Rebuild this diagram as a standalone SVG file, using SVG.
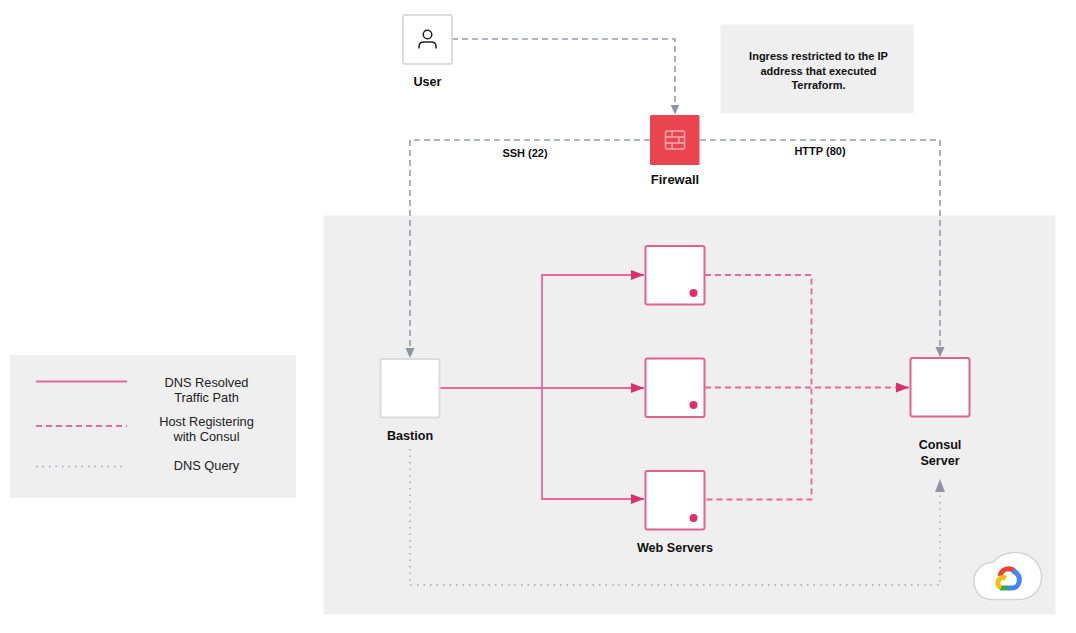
<svg xmlns="http://www.w3.org/2000/svg" width="1076" height="633" viewBox="0 0 1076 633">
<defs>
<marker id="ag" markerUnits="userSpaceOnUse" markerWidth="12" markerHeight="12" refX="10" refY="4.500" orient="auto"><path d="M0 0L10 4.500L0 9Z" fill="#8f93a3"/></marker>
<marker id="agl" markerUnits="userSpaceOnUse" markerWidth="14" markerHeight="12" refX="13" refY="5" orient="auto"><path d="M0 0L13 5L0 10Z" fill="#8f93a3"/></marker>
<marker id="ap" markerUnits="userSpaceOnUse" markerWidth="14" markerHeight="12" refX="13" refY="5" orient="auto"><path d="M0 0L13 5L0 10Z" fill="#dd2f6e"/></marker>
</defs>
<style>
text{font-family:"Liberation Sans",Arial,sans-serif;font-size:12.600px;fill:#111;text-anchor:middle}
.b{font-weight:700}
.s{font-size:11px;font-weight:700}
.l{font-size:12.800px;fill:#222}
.box{fill:#fff;stroke:#dcdcdc;stroke-width:2}
.pk{fill:#fff;stroke:#e5608f;stroke-width:2}
.dot{fill:#dd2f6e}
.panel{fill:#efefef}
.g{fill:none;stroke:#9a9dac;stroke-width:1.600;stroke-dasharray:6 4}
.q{fill:none;stroke:#a5a7b3;stroke-width:1.400;stroke-dasharray:1.500 5}
.ps{fill:none;stroke:#e7689a;stroke-width:1.800}
.pd{fill:none;stroke:#e7689a;stroke-width:1.800;stroke-dasharray:6 4}
</style>
<g id="backgrounds">
<rect class="panel" x="323.500" y="215.500" width="732" height="399"/>
<rect class="panel" x="10" y="355" width="286" height="143"/>
<rect class="panel" x="720.500" y="24.500" width="193" height="88.500"/>
</g>
<g id="connectors">
<path class="g" d="M452 39H675V114.500" marker-end="url(#ag)"/>
<path class="g" d="M650 140H410V358" marker-end="url(#ag)"/>
<path class="g" d="M700 140H940V357" marker-end="url(#ag)"/>
<path class="q" d="M410 449V585H940V479" marker-end="url(#agl)"/>
<path class="ps" d="M440 388H644" marker-end="url(#ap)"/>
<path class="ps" d="M542 388V275H644" marker-end="url(#ap)"/>
<path class="ps" d="M542 388V499H644" marker-end="url(#ap)"/>
<path class="pd" d="M705 275H811.500V499.500H705"/>
<path class="pd" d="M705 387.500H909" marker-end="url(#ap)"/>
</g>
<g id="user">
<rect class="box" x="403" y="15" width="49" height="49" rx="2"/>
<circle cx="427.500" cy="34.500" r="4.300" fill="none" stroke="#222" stroke-width="1.500"/>
<path d="M419 48.500V46.500Q419 42 424 42H431Q436 42 436 46.500V48.500" fill="none" stroke="#222" stroke-width="1.500"/>
<text class="b" x="427.500" y="86">User</text>
</g>
<g id="firewall">
<rect x="650" y="115" width="49.500" height="50" rx="1.500" fill="#ea444f"/>
<g fill="none" stroke="#f7a9ae" stroke-width="1.500">
<rect x="665.500" y="131" width="19" height="18" rx="1.500"/>
<path d="M665.500 137H684.500M665.500 143H684.500M672 131V137M679 137V143M672 143V149"/>
</g>
<text class="b" x="675" y="184" style="font-size:13px">Firewall</text>
</g>
<g id="note">
<text class="s" x="818.500" y="60">Ingress restricted to the IP</text>
<text class="s" x="818.500" y="74.500">address that executed</text>
<text class="s" x="818.500" y="89">Terraform.</text>
</g>
<g id="edge-labels">
<text class="s" x="525" y="157">SSH (22)</text>
<text class="s" x="820" y="155">HTTP (80)</text>
</g>
<g id="bastion">
<rect class="box" x="380.500" y="359" width="59" height="58.500" rx="2"/>
<text class="b" x="410" y="440">Bastion</text>
</g>
<g id="web-1">
<rect class="pk" x="645.500" y="246" width="59" height="58.500" rx="2"/>
<circle class="dot" cx="693.500" cy="293" r="4"/>
</g>
<g id="web-2">
<rect class="pk" x="645.500" y="358.500" width="59" height="58.500" rx="2"/>
<circle class="dot" cx="693.500" cy="405" r="4"/>
</g>
<g id="web-3">
<rect class="pk" x="645.500" y="471" width="59" height="58.500" rx="2"/>
<circle class="dot" cx="693.500" cy="518" r="4"/>
</g>
<text class="b" x="675" y="552">Web Servers</text>
<g id="consul">
<rect class="pk" x="910.500" y="358" width="59" height="58.500" rx="2"/>
<text class="b" x="940" y="449">Consul</text>
<text class="b" x="940" y="465">Server</text>
</g>
<g id="cloud">
<path d="M992 599.500C980 599.500 974 591 974 581C974 571 981 563 993 562C999 555 1008 552.500 1016 552.500C1031 552.500 1041 564 1041.500 576C1042 590 1032 599.500 1018 599.500Z" fill="#fff" stroke="#d4d4d4" stroke-width="1.500"/>
<g fill="none" stroke-width="5">
<path d="M1000 576A8.500 8.500 0 0 1 1015 572" stroke="#ea4335"/>
<path d="M1013 571A9 9 0 0 1 1019 582A7 7 0 0 1 1012 588H1008" stroke="#4285f4"/>
<path d="M1008 588H1000" stroke="#34a853"/>
<path d="M1001 588A5.500 5.500 0 1 1 1006 578" stroke="#fbbc05"/>
</g>
</g>
<g id="legend">
<line class="ps" x1="36" y1="381.500" x2="127" y2="381.500"/>
<line class="pd" x1="36" y1="426" x2="127" y2="426"/>
<line class="q" x1="36" y1="466.500" x2="127" y2="466.500"/>
<text class="l" x="206.500" y="387">DNS Resolved</text>
<text class="l" x="206.500" y="402">Traffic Path</text>
<text class="l" x="206.500" y="426">Host Registering</text>
<text class="l" x="206.500" y="441">with Consul</text>
<text class="l" x="206.500" y="470">DNS Query</text>
</g>
</svg>
